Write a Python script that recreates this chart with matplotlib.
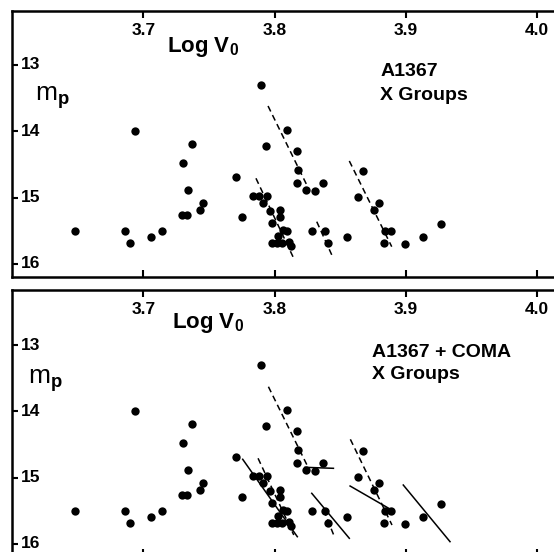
import matplotlib
matplotlib.use("Agg")
import matplotlib.pyplot as plt
from matplotlib.transforms import blended_transform_factory

plt.rcParams['font.family'] = ['Liberation Sans', 'DejaVu Sans']
plt.rcParams['font.weight'] = 'bold'
plt.rcParams['mathtext.fontset'] = 'custom'
plt.rcParams['mathtext.rm'] = 'Liberation Sans:bold'
plt.rcParams['mathtext.it'] = 'Liberation Sans:bold'
plt.rcParams['mathtext.bf'] = 'Liberation Sans:bold'
plt.rcParams['mathtext.default'] = 'rm'

# ---- data: galaxies (log V0, m_p) ----
log_v0 = [3.6480, 3.6861, 3.6899, 3.6937, 3.7059, 3.7142, 3.7295, 3.7333, 3.7302,
          3.7340, 3.7371, 3.7432, 3.7455, 3.7706, 3.7752, 3.7896, 3.7934,
          3.7838, 3.7883, 3.7940, 3.7914, 3.7965, 3.8041, 3.8041, 3.7983, 3.8066,
          3.8092, 3.8028, 3.7978, 3.8016, 3.8054, 3.8112, 3.8123,
          3.8283, 3.8384, 3.8409, 3.8549,
          3.8097, 3.8168, 3.8181, 3.8173, 3.8239, 3.8308, 3.8371,
          3.8676, 3.8638, 3.8795, 3.8759, 3.8841, 3.8884, 3.8833, 3.8991,
          3.9128, 3.9265]
m_p = [15.503, 15.503, 15.684, 13.995, 15.593, 15.503, 15.261, 15.261, 14.477,
       14.885, 14.191, 15.186, 15.081, 14.689, 15.292, 13.302, 14.221,
       14.975, 14.975, 14.975, 15.076, 15.197, 15.186, 15.287, 15.387, 15.488,
       15.498, 15.578, 15.679, 15.679, 15.679, 15.664, 15.729,
       15.498, 15.498, 15.688, 15.589,
       13.980, 14.292, 14.583, 14.783, 14.885, 14.895, 14.783,
       14.594, 14.986, 15.085, 15.186, 15.498, 15.498, 15.688, 15.699,
       15.589, 15.397]

# ---- fitted group relations: ((x0, x1), (y0, y1)) ----
top_dashed = [((3.7950, 3.8264), (13.618, 14.885)),
              ((3.7858, 3.8142), (14.708, 15.899)),
              ((3.8321, 3.8447), (15.362, 15.914)),
              ((3.8569, 3.8892), (14.447, 15.739))]
bottom_dashed = [((3.7953, 3.8253), (13.629, 14.835)),
                 ((3.7874, 3.8146), (14.708, 15.864)),
                 ((3.8374, 3.8450), (15.488, 15.864)),
                 ((3.8577, 3.8894), (14.422, 15.714))]
bottom_solid = [((3.7757, 3.8173), (14.723, 15.890)),
                ((3.8283, 3.8569), (15.236, 15.914)),
                ((3.8232, 3.8448), (14.844, 14.859)),
                ((3.8575, 3.8892), (15.126, 15.488)),
                ((3.8980, 3.9336), (15.111, 15.965))]

x_ticks = [3.7, 3.8, 3.9, 4.0]
x_tick_labels = ['3.7', '3.8', '3.9', '4.0']
y_ticks = [13, 14, 15, 16]
y_tick_labels = ['13', '14', '15', '16']
titles = [['A1367', 'X Groups'], ['A1367 + COMA', 'X Groups']]

W, H = 554, 552
fig = plt.figure(figsize=(W / 100, H / 100), dpi=100)

XMIN = 3.6
PX_PER_X = 1313.0
PX_PER_Y = 66.33
AX_W = 552
AX_H = 266


def make_axes(top_px, y13_px):
    left = 12
    ax = fig.add_axes([left / W, (H - top_px - AX_H) / H, AX_W / W, AX_H / H])
    ax.set_xlim(XMIN, XMIN + AX_W / PX_PER_X)
    ytop = 13 - (y13_px - top_px) / PX_PER_Y
    ax.set_ylim(ytop + AX_H / PX_PER_Y, ytop)
    for s in ['left', 'top', 'bottom']:
        ax.spines[s].set_linewidth(1.8)
    ax.spines['right'].set_visible(False)
    ax.set_xticks(x_ticks)
    ax.set_yticks(y_ticks)
    ax.tick_params(axis='x', direction='in', top=True, bottom=True, length=5,
                   width=1.5, labelbottom=False, labeltop=False)
    ax.tick_params(axis='y', direction='in', left=True, right=False, length=4,
                   width=1.5, labelleft=False)
    return ax


panels = [(11, 65), (290, 345)]
axes = [make_axes(t, y13) for t, y13 in panels]

for i, ax in enumerate(axes):
    ax.plot(log_v0, m_p, 'o', color='black', markersize=6.0, markeredgewidth=0,
            linestyle='none', zorder=3)
    dashed = top_dashed if i == 0 else bottom_dashed
    for xs, ys in dashed:
        ax.plot(xs, ys, color='black', lw=1.1, linestyle=(0, (4.0, 2.6)), zorder=2)
    if i == 1:
        for xs, ys in bottom_solid:
            ax.plot(xs, ys, color='black', lw=1.1, zorder=2)

    tr = blended_transform_factory(ax.transData, ax.transAxes)
    for xt, lab in zip(x_ticks, x_tick_labels):
        ax.annotate(lab, xy=(xt, 1), xycoords=tr, xytext=(0, -8.4),
                    textcoords='offset points', ha='center', va='top',
                    fontsize=12.5, fontweight='bold')
    tr2 = blended_transform_factory(ax.transAxes, ax.transData)
    for yt, lab in zip(y_ticks, y_tick_labels):
        ax.annotate(lab, xy=(0, yt), xycoords=tr2, xytext=(6.5, 0),
                    textcoords='offset points', ha='left', va='center',
                    fontsize=12.5, fontweight='bold')

# axis titles
axes[0].text(3.718, 12.80, r'Log V$_0$', fontsize=16, ha='left', va='baseline')
axes[1].text(3.7218, 12.74, r'Log V$_0$', fontsize=16, ha='left', va='baseline')
axes[0].text(3.6175, 13.54, r'm$_\mathrm{p}$', fontsize=19, ha='left',
             va='baseline', fontweight='normal')
axes[1].text(3.612, 13.59, r'm$_\mathrm{p}$', fontsize=19, ha='left',
             va='baseline', fontweight='normal')

axes[0].text(3.8803, 13.166, titles[0][0], fontsize=14, ha='left', va='baseline')
axes[0].text(3.8803, 13.53, titles[0][1], fontsize=14, ha='left', va='baseline')
axes[1].text(3.874, 13.18, titles[1][0], fontsize=14, ha='left', va='baseline')
axes[1].text(3.874, 13.51, titles[1][1], fontsize=14, ha='left', va='baseline')

fig.savefig('out.png', dpi=100)
